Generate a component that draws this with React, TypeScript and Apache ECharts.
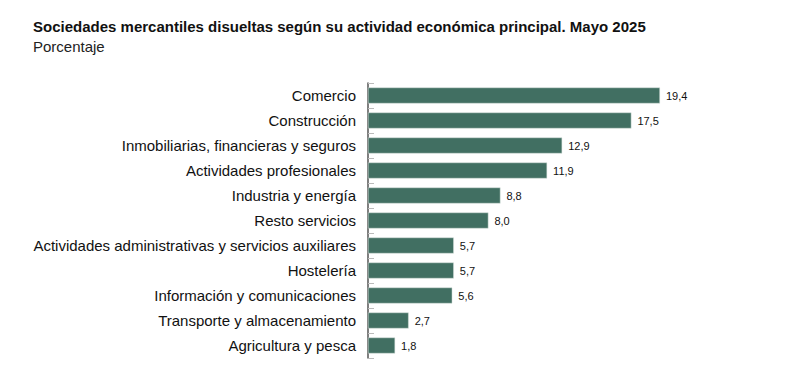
import React, { useEffect, useRef } from "react";
import * as echarts from "echarts";

const titleText = "Sociedades mercantiles disueltas según su actividad económica principal. Mayo 2025";
const subtitleText = "Porcentaje";
const categories = [
  "Comercio",
  "Construcción",
  "Inmobiliarias, financieras y seguros",
  "Actividades profesionales",
  "Industria y energía",
  "Resto servicios",
  "Actividades administrativas y servicios auxiliares",
  "Hostelería",
  "Información y comunicaciones",
  "Transporte y almacenamiento",
  "Agricultura y pesca",
];
const values = [19.4, 17.5, 12.9, 11.9, 8.8, 8.0, 5.7, 5.7, 5.6, 2.7, 1.8];

export default function App() {
  const ref = useRef<HTMLDivElement>(null);
  useEffect(() => {
    if (!ref.current) return;
    const chart = echarts.init(ref.current, null, { renderer: "svg" });
    chart.setOption({
      animation: false,
      backgroundColor: "#ffffff",
      textStyle: { fontFamily: "Liberation Sans, Arial, sans-serif" },
      graphic: [
        {
          type: "text",
          left: 25,
          top: 11,
          style: {
            text: titleText,
            font: "bold 15px 'Liberation Sans', Arial, sans-serif",
            fill: "#111111",
          },
        },
        {
          type: "text",
          left: 25,
          top: 31,
          style: {
            text: subtitleText,
            font: "15px 'Liberation Sans', Arial, sans-serif",
            fill: "#222222",
          },
        },
      ],
      grid: { left: 360, top: 75, width: 301, height: 275, containLabel: false },
      xAxis: {
        type: "value",
        min: 0,
        max: 20,
        show: false,
      },
      yAxis: {
        type: "category",
        data: categories,
        inverse: true,
        axisLine: { show: true, lineStyle: { color: "#555555", width: 1.5 } },
        axisTick: { show: true, inside: true, length: 6, lineStyle: { color: "#bbbbbb" } },
        axisLabel: { color: "#111111", fontSize: 15, margin: 12, fontFamily: "Liberation Sans, Arial, sans-serif" },
      },
      series: [
        {
          type: "bar",
          data: values,
          barCategoryGap: "36%",
          itemStyle: { color: "#416f62", borderColor: "#d8e2de", borderWidth: 0.5 },
          label: {
            show: true,
            position: "right",
            distance: 6,
            color: "#111111",
            fontSize: 11,
            fontFamily: "Liberation Sans, Arial, sans-serif",
            formatter: (p: any) => p.value.toFixed(1).replace(".", ","),
          },
        },
      ],
    });
    return () => chart.dispose();
  }, []);
  return <div ref={ref} style={{ width: 784, height: 371 }} />;
}
